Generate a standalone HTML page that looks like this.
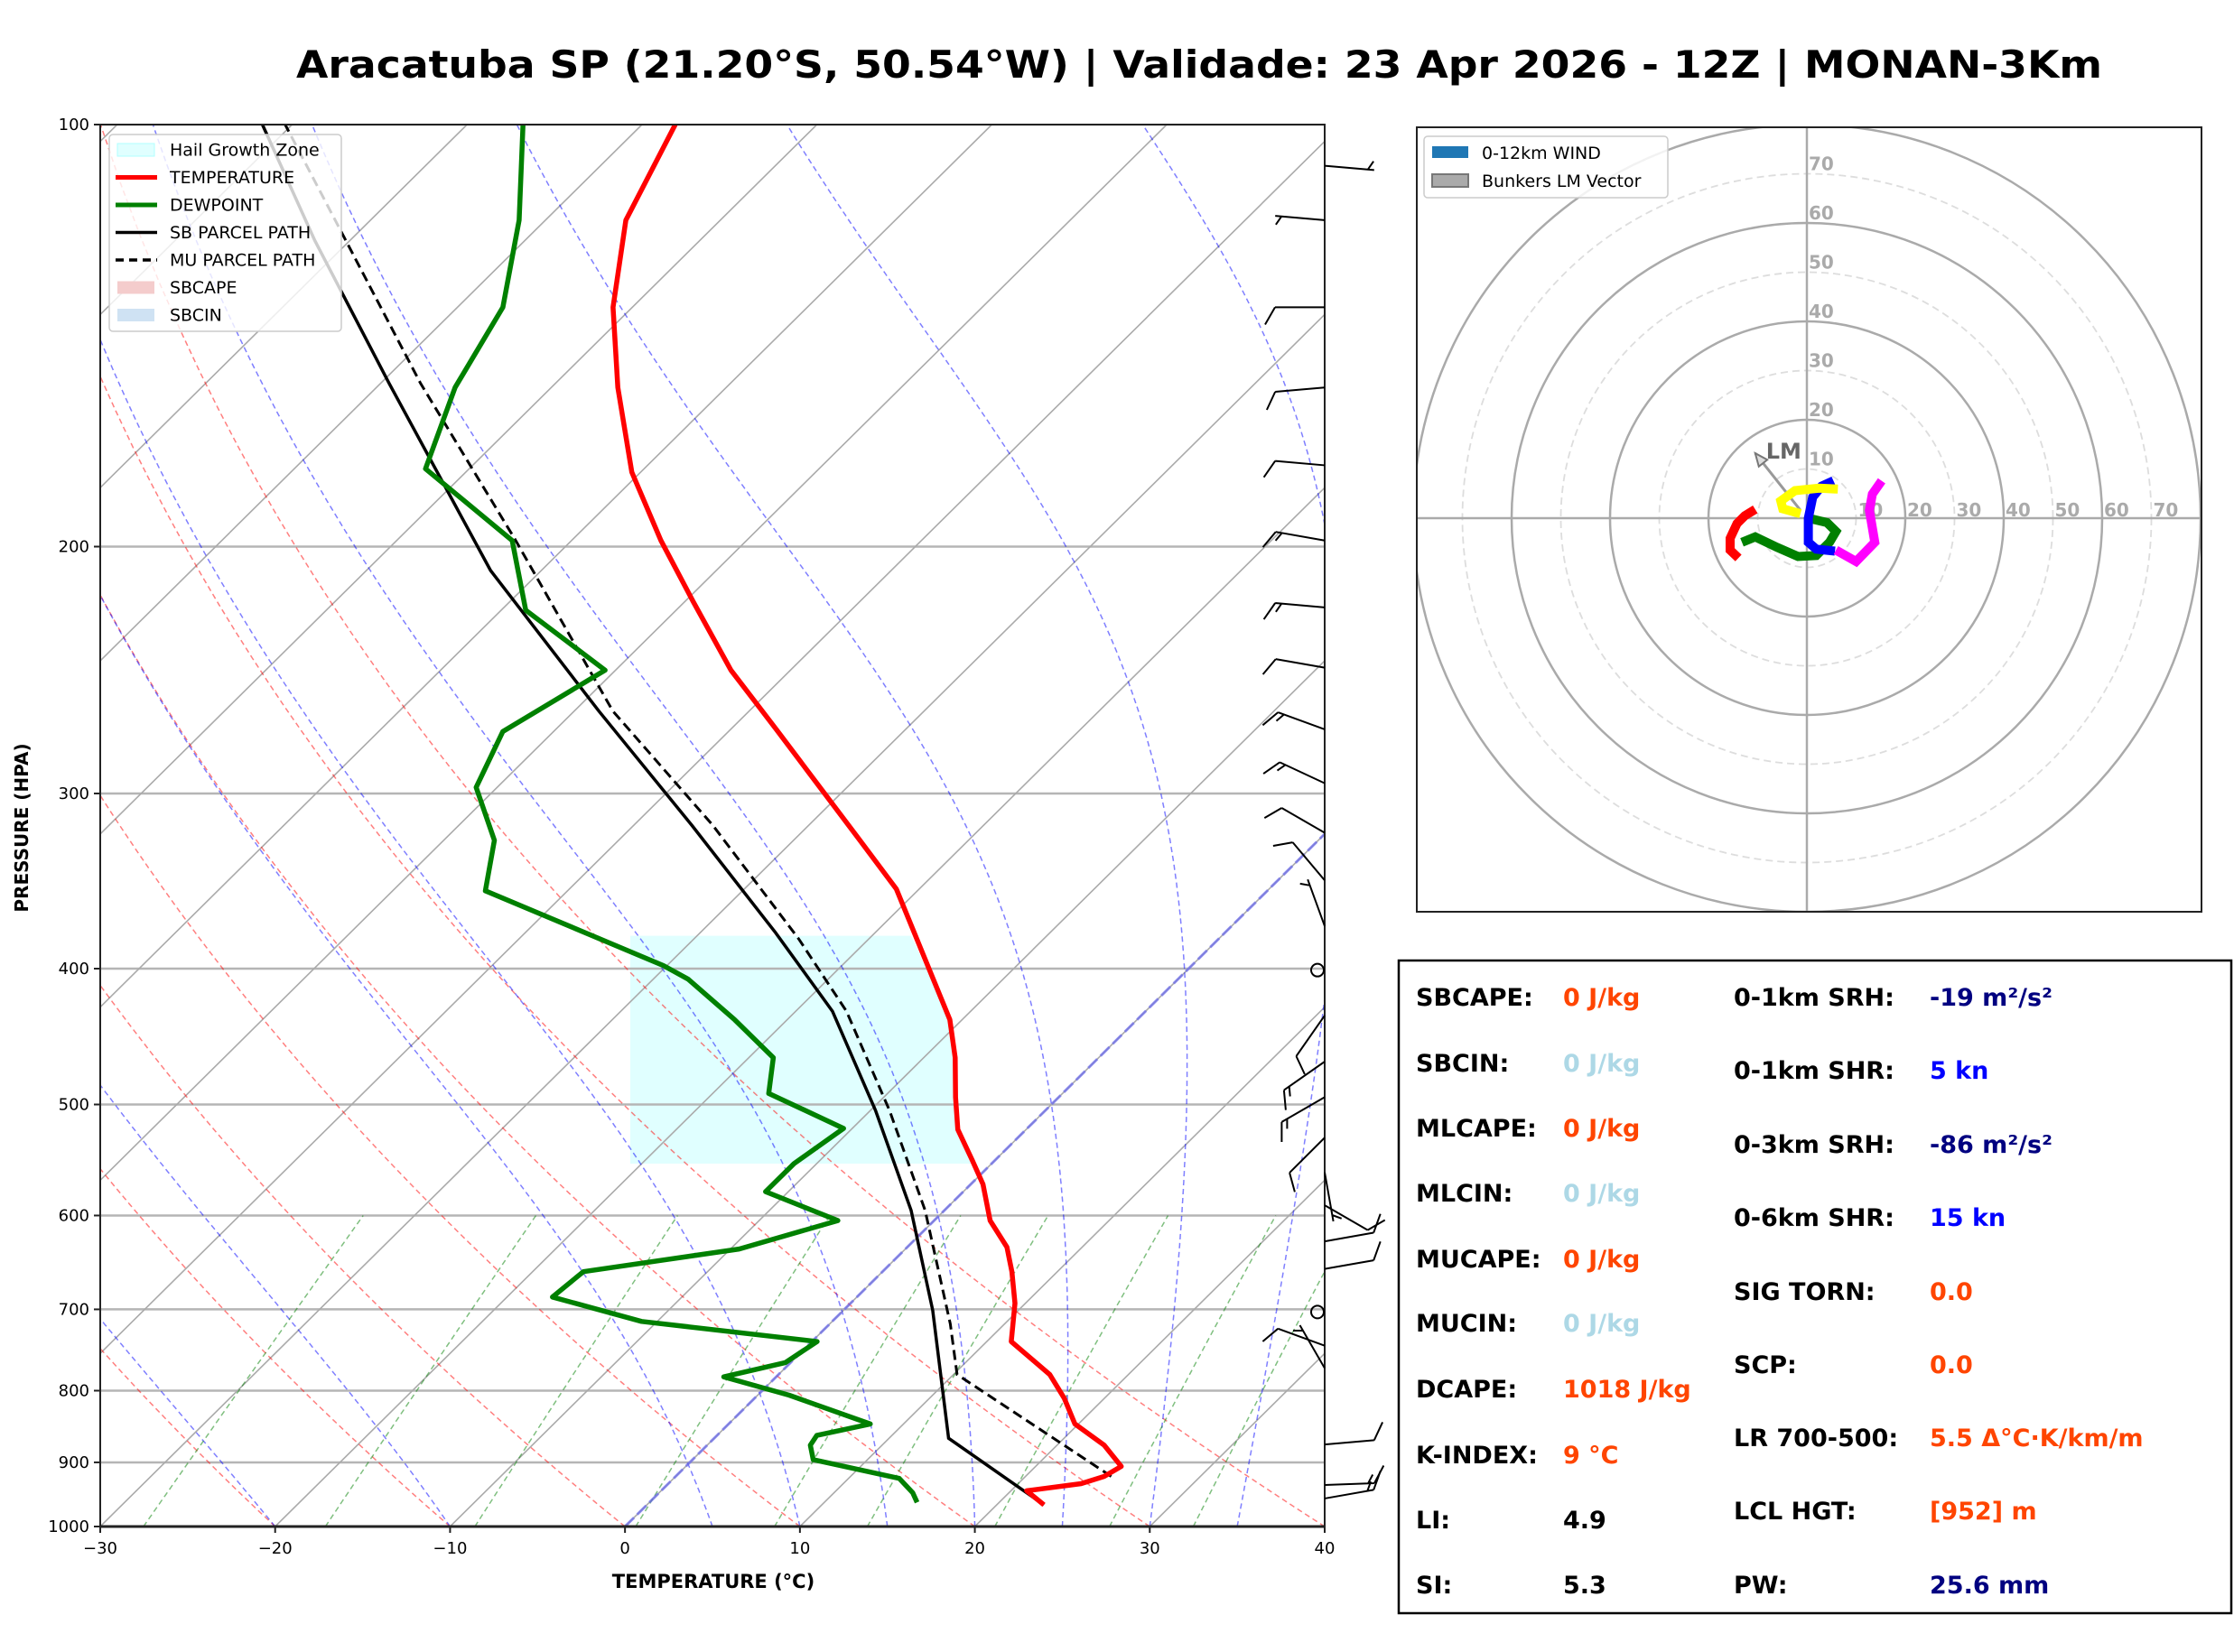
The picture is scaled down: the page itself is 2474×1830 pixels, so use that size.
<!DOCTYPE html>
<html><head><meta charset="utf-8"><style>
html,body{margin:0;padding:0;background:#fff}
svg{display:block;font-family:"DejaVu Sans","Liberation Sans",sans-serif}
</style></head><body>
<svg id="fig" xmlns="http://www.w3.org/2000/svg" width="2474" height="1830" viewBox="0 0 2474 1830">
<rect width="2474" height="1830" fill="#fff"/>
<text x="1328" y="86" text-anchor="middle" font-size="42" font-weight="bold" textLength="2000" lengthAdjust="spacingAndGlyphs">Aracatuba SP (21.20°S, 50.54°W) | Validade: 23 Apr 2026 - 12Z | MONAN-3Km</text>
<defs>
<clipPath id="skc"><rect x="111" y="138" width="1356" height="1553"/></clipPath>
<clipPath id="hoc"><rect x="1569" y="141" width="869" height="869"/></clipPath>
</defs>
<g id="skew"></g>
<g id="hodo"></g>
<g id="table">
<rect x="1549" y="1064" width="922" height="723" fill="none" stroke="#000" stroke-width="2.5"/>
</g>
</svg>
<script>
// ---------- data ----------
const tempP=[965,943,932,921,906,875,845,810,779,738,693,658,632,605,570,548,521,494,463,435,351,324,270,245,219,198,177,154,135,117,100];
const tempT=[22.7,20.9,23.6,24.5,24.9,22.7,19.8,17.7,15.5,11.4,9.4,7.4,5.7,3.2,0.7,-1.3,-3.9,-5.9,-8.2,-10.7,-21.3,-26.2,-37.4,-43.4,-49.5,-54.9,-60.5,-66.2,-71.1,-75.4,-78.1];
const dewP=[961,946,924,896,875,861,845,806,782,764,738,714,686,658,634,605,577,551,520,491,463,435,407,398,352,324,297,271,245,222,198,176,154,135,117,100];
const dewT=[15.3,14.5,12.9,6.9,5.9,5.7,8.1,1.8,-3.0,-0.3,0.3,-10.9,-17.4,-17.1,-9.5,-5.5,-11.3,-11.3,-10.5,-16.8,-18.6,-23.0,-28.0,-30.2,-44.7,-47.1,-51.2,-52.9,-50.6,-58.6,-63.4,-72.5,-75.5,-77.4,-81.5,-86.8];
const sbP=[965,865,701,595,505,429,377,316,262,208,153,121,100];
const sbT=[22.7,13.4,5.1,-1.9,-9.7,-17.9,-25.7,-36.7,-48.6,-62.9,-79.5,-92,-101.7];
const muP=[921,779,717,595,505,429,381,316,262,198,153,100];
const muT=[24.9,10.2,6.9,-1.1,-8.9,-17.1,-24.0,-35.5,-47.8,-63.2,-77.7,-100.4];
const presTicks=[100,200,300,400,500,600,700,800,900,1000];
const tempTicks=[-30,-20,-10,0,10,20,30,40];
const mixRatios=[0.4,1,2,4,7,10,16,24,32];
const moistT0=[-20,-10,5,10,15,20,25,30,35];
const barbP=[107,117,135,154,175,198,221,244,270,295,320,346,373,401,432,466,494,528,559,590,626,655,703,743,771,874,934,955];
const barbDir=[95,275,270,265,275,280,275,280,290,295,300,320,340,0,215,235,240,225,170,120,80,80,0,290,330,85,88,80];
const barbSpd=[5,5,10,10,10,15,15,10,15,15,10,10,5,0,10,15,15,10,5,10,10,10,0,10,5,10,15,15];
// hodograph segments (knots)
const hodoRedU=[-10.5,-12.6,-14.2,-15.6,-15.6,-13.9];
const hodoRedV=[1.8,0.5,-1.1,-4.1,-6.5,-8.1];
const hodoGreenU=[-13.2,-10.5,-6.1,-1.8,1.9,4.6,5.9,4.1,0.3];
const hodoGreenV=[-4.9,-3.8,-5.9,-7.8,-7.6,-4.9,-2.7,-0.9,0];
const hodoBlueU=[5.4,3.0,1.2,0.3,0.3,1.9,5.7];
const hodoBlueV=[7.6,6.5,4.3,0,-4.9,-6.3,-6.7];
const hodoMagU=[5.9,10.0,13.8,12.7,13.3,15.2];
const hodoMagV=[-6.5,-8.8,-4.9,1.6,4.9,7.6];
const hodoYelU=[6.3,2.5,-2.4,-5.3,-4.9,-1.3];
const hodoYelV=[5.9,6.1,5.6,3.5,1.9,0.9];
const lmU=-10.5, lmV=13.2;
const ringVals=[10,20,30,40,50,60,70,80];

// ---------- skew-T axes ----------
const NS="http://www.w3.org/2000/svg";
const L=111,R=1467,TOP=138,B=1691,SX=(R-L)/70,K=1.01;
function yP(p){return B-Math.log10(1000/p)*(B-TOP);}
function xT(t,p){return L+(t+30)*SX+(B-yP(p))*K;}
function mk(tag,attrs,parent){const e=document.createElementNS(NS,tag);for(const k in attrs)e.setAttribute(k,attrs[k]);parent.appendChild(e);return e;}
function pathFrom(ts,ps){return ts.map((t,i)=>(i?'L':'M')+xT(t,ps[i]).toFixed(1)+','+yP(ps[i]).toFixed(1)).join('');}
const sk=document.getElementById('skew');
const clipG=mk('g',{'clip-path':'url(#skc)'},sk);



presTicks.forEach(p=>{const l=mk('line',{x1:L,x2:R,y1:yP(p),y2:yP(p),stroke:'#b5b5b5','stroke-width':2.5},clipG);

});
for(let t=-150;t<=40;t+=10){const l=mk('line',{x1:xT(t,1000),y1:B,x2:xT(t,100),y2:TOP,stroke:'#aaa','stroke-width':1.6},clipG);

}
for(let t0=-30;t0<=40;t0+=10){const th=t0+273.15;let d='';for(let p=1000;p>=100;p-=10){const t=th*Math.pow(p/1000,0.2857)-273.15;d+=(p==1000?'M':'L')+xT(t,p).toFixed(1)+','+yP(p).toFixed(1);}
const e=mk('path',{d:d,fill:'none',stroke:'#ff0000','stroke-opacity':0.5,'stroke-width':1.5,'stroke-dasharray':'6,4'},clipG);

}
function es(tc){return 6.112*Math.exp(17.67*tc/(tc+243.5));}
function moistPath(t0){let T=t0+273.15,d='';for(let p=1000;p>=100;p-=2){d+=(p==1000?'M':'L')+xT(T-273.15,p).toFixed(1)+','+yP(p).toFixed(1);
const e=es(T-273.15),rs=0.622*e/(p-e);const dTdp=(287*T+2.501e6*rs)/(1005+2.501e6*2.501e6*rs*0.622/(287*T*T))/p;T-=dTdp*2;}return d;}
moistT0.forEach(t0=>{const e=mk('path',{d:moistPath(t0),fill:'none',stroke:'#0000ff','stroke-opacity':0.5,'stroke-width':1.5,'stroke-dasharray':'6,4'},clipG);

});
mixRatios.forEach(w=>{let d='';for(let p=1000;p>=600;p-=10){const e=w*p/(622+w),lg=Math.log(e/6.112),td=243.5*lg/(17.67-lg);d+=(p==1000?'M':'L')+xT(td,p).toFixed(1)+','+yP(p).toFixed(1);}
const e=mk('path',{d:d,fill:'none',stroke:'#008000','stroke-opacity':0.5,'stroke-width':1.5,'stroke-dasharray':'6,4'},clipG);

});
const zi=mk('line',{x1:xT(0,1000),y1:B,x2:xT(0,100),y2:TOP,stroke:'#6a6af0','stroke-opacity':0.7,'stroke-width':3,'stroke-dasharray':'14,5'},clipG);


(function(){const pts=[];const x0=698;pts.push([x0,yP(551)]);
const ps=[],ts=[];tempP.forEach((p,i)=>{if(p<=551&&p>=379){ps.push(p);ts.push(tempT[i]);}});
function interp(p){for(let i=0;i<tempP.length-1;i++){if(tempP[i]>=p&&tempP[i+1]<=p){const f=(tempP[i]-p)/(tempP[i]-tempP[i+1]);return tempT[i]+f*(tempT[i+1]-tempT[i]);}}return 0;}
pts.push([xT(interp(551),551),yP(551)]);ps.forEach((p,i)=>pts.push([xT(ts[i],p),yP(p)]));pts.push([xT(interp(379),379),yP(379)]);pts.push([x0,yP(379)]);
const h=mk('polygon',{points:pts.map(a=>a.join(',')).join(' '),fill:'#e0ffff'},clipG);


clipG.insertBefore(h,clipG.firstChild);})();
const sbl=mk('path',{d:pathFrom(sbT,sbP),fill:'none',stroke:'#000','stroke-width':3.5},clipG);


const mul=mk('path',{d:pathFrom(muT,muP),fill:'none',stroke:'#000','stroke-width':3,'stroke-dasharray':'11,6'},clipG);


const dl=mk('path',{d:pathFrom(dewT,dewP),fill:'none',stroke:'#008000','stroke-width':5.5,'stroke-linejoin':'round'},clipG);


const tl=mk('path',{d:pathFrom(tempT,tempP),fill:'none',stroke:'#ff0000','stroke-width':5.5,'stroke-linejoin':'round'},clipG);


const fr=mk('rect',{x:L,y:TOP,width:R-L,height:B-TOP,fill:'none',stroke:'#222','stroke-width':2},sk);


const bl=mk('line',{x1:L,x2:R,y1:B,y2:B,stroke:'#222','stroke-width':3},sk);


presTicks.forEach(p=>{mk('line',{x1:L-7,x2:L,y1:yP(p),y2:yP(p),stroke:'#222','stroke-width':2},sk);
const t=mk('text',{x:L-12,y:yP(p)+6,'text-anchor':'end','font-size':18},sk);t.textContent=p;

});
tempTicks.forEach(v=>{const x=L+(v+30)*SX;mk('line',{x1:x,x2:x,y1:B,y2:B+7,stroke:'#222','stroke-width':2},sk);
const t=mk('text',{x:x,y:B+30,'text-anchor':'middle','font-size':18},sk);t.textContent=(v<0?'\u2212'+(-v):v);

});
const xt=mk('text',{x:790,y:1759,'text-anchor':'middle','font-size':21,'font-weight':'bold'},sk);xt.textContent='TEMPERATURE (°C)';


const yt=mk('text',{x:0,y:0,'text-anchor':'middle','font-size':20,'font-weight':'bold',transform:'translate(31,917) rotate(-90)'},sk);yt.textContent='PRESSURE (HPA)';


barbP.forEach((p,i)=>{const x0=R,y0=yP(p),sp=barbSpd[i];
if(sp===0){const c=mk('circle',{cx:x0-8,cy:y0,r:7,fill:'none',stroke:'#000','stroke-width':2},sk);

return;}
const a=barbDir[i]*Math.PI/180,sx=Math.sin(a),sy=-Math.cos(a),Ls=55;
const tx=x0+sx*Ls,ty=y0+sy*Ls;let d=`M${x0},${y0}L${tx.toFixed(1)},${ty.toFixed(1)}`;
const px=sy,py=-sx;let rem=sp,pos=0;
while(rem>=10){const bx=tx-sx*pos,by=ty-sy*pos;d+=`M${bx.toFixed(1)},${by.toFixed(1)}l${((0.5*sx+0.87*px)*22).toFixed(1)},${((0.5*sy+0.87*py)*22).toFixed(1)}`;rem-=10;pos+=7;}
if(rem>=5){if(pos===0)pos=7;const bx=tx-sx*pos,by=ty-sy*pos;d+=`M${bx.toFixed(1)},${by.toFixed(1)}l${((0.5*sx+0.87*px)*11).toFixed(1)},${((0.5*sy+0.87*py)*11).toFixed(1)}`;}
const e=mk('path',{d:d,fill:'none',stroke:'#000','stroke-width':2},sk);

});
(function(){const g=mk('g',{},sk);


mk('rect',{x:121,y:149,width:257,height:218,rx:4,fill:'#fff','fill-opacity':0.8,stroke:'#ccc','stroke-width':1.5},g);
const items=[['Hail Growth Zone','patch','#e0ffff','#b0ffff'],['TEMPERATURE','line','#ff0000'],['DEWPOINT','line','#008000'],['SB PARCEL PATH','line','#000'],['MU PARCEL PATH','dash','#000'],['SBCAPE','patch','#f4cccc'],['SBCIN','patch','#cfe2f3']];
items.forEach((it,i)=>{const y=166+i*30.5;
if(it[1]==='patch')mk('rect',{x:130,y:y-7,width:41,height:14,fill:it[2],stroke:it[3]||'none'},g);
else mk('line',{x1:128,x2:174,y1:y,y2:y,stroke:it[2],'stroke-width':it[1]==='line'&&i<3?5:3.5,'stroke-dasharray':it[1]==='dash'?'9,6':'none'},g);
const t=mk('text',{x:188,y:y+6.5,'font-size':19},g);t.textContent=it[0];

});})();

// ---------- hodograph ----------
const ho=document.getElementById('hodo');const HX=2001,HY=574,HS=5.45;
function hx(u){return HX+u*HS;}function hy(v){return HY-v*HS;}
const hc=mk('g',{'clip-path':'url(#hoc)'},ho);


ringVals.forEach(r=>{const solid=r%20===0;const c=mk('circle',{cx:HX,cy:HY,r:r*HS,fill:'none',stroke:solid?'#aaa':'#ddd','stroke-width':solid?2.5:1.8,'stroke-dasharray':solid?'none':'8,5'},hc);

});
mk('line',{x1:1569,x2:2438,y1:HY,y2:HY,stroke:'#aaa','stroke-width':2.5},hc);
mk('line',{x1:HX,x2:HX,y1:141,y2:1010,stroke:'#aaa','stroke-width':2.5},hc);
ringVals.slice(0,7).forEach(r=>{const t1=mk('text',{x:hx(r)+2,y:HY-2,'font-size':20,'font-weight':'bold',fill:'#aaa'},hc);t1.textContent=r;


const t2=mk('text',{x:HX+2,y:hy(r)-4,'font-size':20,'font-weight':'bold',fill:'#aaa'},hc);t2.textContent=r;

});
(function(){const x1=hx(-1.3),y1=hy(1.6),x2=hx(lmU),y2=hy(lmV);const a=Math.atan2(y2-y1,x2-x1);
const ln=mk('line',{x1:x1,y1:y1,x2:x2,y2:y2,stroke:'#999','stroke-width':3},hc);


const hl=14,hw=6;const bx=x2-Math.cos(a)*hl,by=y2-Math.sin(a)*hl;
mk('polygon',{points:`${x2},${y2} ${bx-Math.sin(a)*hw},${by+Math.cos(a)*hw} ${bx+Math.sin(a)*hw},${by-Math.cos(a)*hw}`,fill:'#ddd',stroke:'#777','stroke-width':2},hc);
const t=mk('text',{x:hx(lmU)+12,y:hy(lmV)+6,'font-size':24,'font-weight':'bold',fill:'#666'},hc);t.textContent='LM';

})();
[[hodoRedU,hodoRedV,'#ff0000','hodo-segment-red'],[hodoGreenU,hodoGreenV,'#008000','hodo-segment-green'],[hodoBlueU,hodoBlueV,'#0000ff','hodo-segment-blue'],[hodoMagU,hodoMagV,'#ff00ff','hodo-segment-magenta'],[hodoYelU,hodoYelV,'#ffff00','hodo-segment-yellow']].forEach(s=>{
const d=s[0].map((u,i)=>(i?'L':'M')+hx(u).toFixed(1)+','+hy(s[1][i]).toFixed(1)).join('');
const e=mk('path',{d:d,fill:'none',stroke:s[2],'stroke-width':10,'stroke-linejoin':'miter'},hc);

});
const hf=mk('rect',{x:1569,y:141,width:869,height:869,fill:'none',stroke:'#222','stroke-width':2},ho);


(function(){const g=mk('g',{},ho);


mk('rect',{x:1577,y:151,width:270,height:68,rx:4,fill:'#fff','fill-opacity':0.85,stroke:'#ccc','stroke-width':1.5},g);
mk('rect',{x:1586,y:162,width:40,height:13,fill:'#1f77b4'},g);
mk('rect',{x:1586,y:193,width:40,height:14,fill:'#aaa',stroke:'#777','stroke-width':2},g);
const a=mk('text',{x:1641,y:176,'font-size':19},g);a.textContent='0-12km WIND';


const b=mk('text',{x:1641,y:207,'font-size':19},g);b.textContent='Bunkers LM Vector';

})();

// ---------- table ----------
const tb=document.getElementById('table');
const OR='#ff4500',LB='#add8e6',NV='#000080',BL='#0000ff',BK='#000';
const leftRows=[['SBCAPE:','0 J/kg',OR],['SBCIN:','0 J/kg',LB],['MLCAPE:','0 J/kg',OR],['MLCIN:','0 J/kg',LB],['MUCAPE:','0 J/kg',OR],['MUCIN:','0 J/kg',LB],['DCAPE:','1018 J/kg',OR],['K-INDEX:','9 °C',OR],['LI:','4.9',BK],['SI:','5.3',BK]];
const leftY=[1104,1177,1249,1321,1394,1465,1538,1611,1683,1755];
const rightRows=[['0-1km SRH:','-19 m²/s²',NV],['0-1km SHR:','5 kn',BL],['0-3km SRH:','-86 m²/s²',NV],['0-6km SHR:','15 kn',BL],['SIG TORN:','0.0',OR],['SCP:','0.0',OR],['LR 700-500:','5.5 Δ°C·K/km/m',OR],['LCL HGT:','[952] m',OR],['PW:','25.6 mm',NV]];
const rightY=[1104,1185,1267,1348,1430,1511,1592,1673,1755];
function row(x1,x2,y,r){const a=mk('text',{x:x1,y:y+10,'font-size':27,'font-weight':'bold',fill:'#000'},tb);a.textContent=r[0];


const b=mk('text',{x:x2,y:y+10,'font-size':27,'font-weight':'bold',fill:r[2]},tb);b.textContent=r[1];

}
leftRows.forEach((r,i)=>row(1568,1731,leftY[i],r));
rightRows.forEach((r,i)=>row(1920,2137,rightY[i],r));
</script>
</body></html>
